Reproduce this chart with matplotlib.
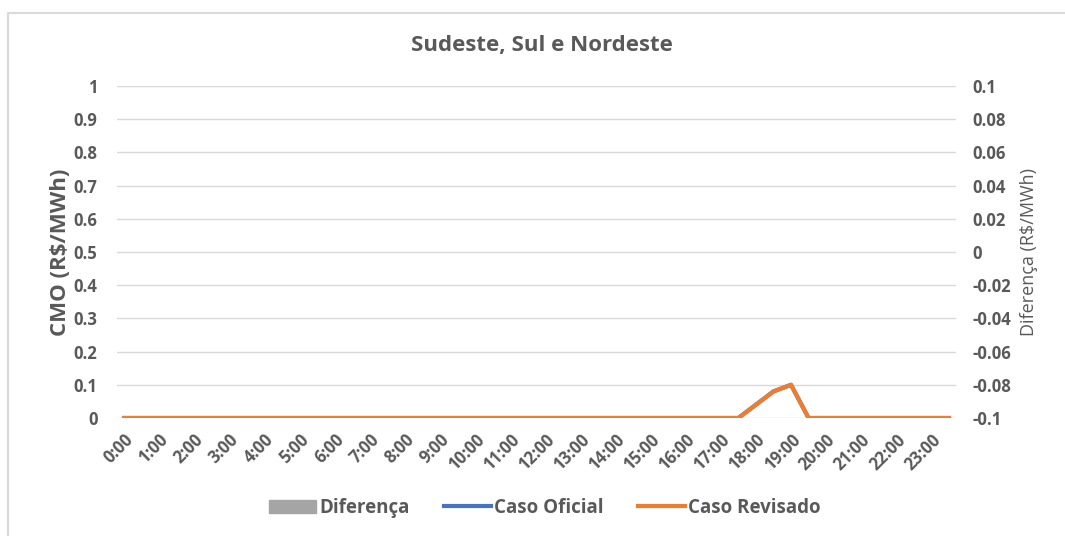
import matplotlib
matplotlib.use("Agg")
import matplotlib.pyplot as plt
from matplotlib.patches import Patch
from matplotlib.lines import Line2D

# Dados (48 pontos de meia hora)
horarios = ["%d:%02d" % (h, m) for h in range(24) for m in (0, 30)]
caso_oficial = [0.0] * 35 + [0.0, 0.04, 0.08, 0.1] + [0.0] * 9
caso_revisado = [0.0] * 35 + [0.0, 0.04, 0.08, 0.1] + [0.0] * 9
diferenca = [r - o for r, o in zip(caso_revisado, caso_oficial)]

cinza = "#595959"
plt.rcParams['font.family'] = ['Open Sans', 'DejaVu Sans']

fig = plt.figure(figsize=(10.65, 5.36), dpi=100)
# moldura do grafico (so aparecem borda esquerda e superior)
fig.add_artist(Line2D([7.5 / 1065, 7.5 / 1065, 1.0], [0.0, 1 - 12.5 / 536, 1 - 12.5 / 536],
                      transform=fig.transFigure, color="#d9d9d9", linewidth=1.5))

ax = fig.add_axes([117 / 1065, 1 - 418 / 536, (956 - 117) / 1065, (418 - 86) / 536])
ax2 = ax.twinx()

x = list(range(len(horarios)))
ax2.bar(x, diferenca, color="#A5A5A5", width=0.6, zorder=1)
ax.plot(x, caso_oficial, color="#4472C4", linewidth=3, zorder=3)
ax.plot(x, caso_revisado, color="#ED7D31", linewidth=3, zorder=4)
ax.set_zorder(ax2.get_zorder() + 1)
ax.patch.set_visible(False)

ax.set_ylim(0, 1)
ax.set_yticks([i / 10 for i in range(11)])
ax.set_yticklabels(["0", "0.1", "0.2", "0.3", "0.4", "0.5", "0.6", "0.7", "0.8", "0.9", "1"])
ax2.set_ylim(-0.1, 0.1)
ax2.set_yticks([-0.1 + i * 0.02 for i in range(11)])
ax2.set_yticklabels(["-0.1", "-0.08", "-0.06", "-0.04", "-0.02", "0", "0.02", "0.04", "0.06", "0.08", "0.1"])
ax.set_xlim(-0.4, len(horarios) - 0.6)
ax.set_xticks(x[::2])
ax.set_xticklabels(horarios[::2], rotation=45, ha="right", rotation_mode="anchor")

ax.grid(axis="y", color="#d9d9d9", linewidth=1)
ax.set_axisbelow(True)
for a in (ax, ax2):
    for s in a.spines.values():
        s.set_visible(False)
    a.tick_params(length=0, colors=cinza)
ax.tick_params(axis="y", labelsize=12, pad=14)
ax2.tick_params(axis="y", labelsize=12, pad=12)
ax.tick_params(axis="x", labelsize=12, pad=9)
for lbl in ax.get_yticklabels() + ax2.get_yticklabels() + ax.get_xticklabels():
    lbl.set_fontweight("bold")

ax.set_ylabel("CMO (R$/MWh)", fontsize=16, fontweight="bold", color=cinza, labelpad=2)
ax2.set_ylabel("Diferença (R$/MWh)", fontsize=13, color=cinza, labelpad=6)
fig.text(542 / 1065, 1 - 46 / 536, "Sudeste, Sul e Nordeste", ha="center", va="center",
         fontsize=16, fontweight="bold", color=cinza)

handles = [Patch(color="#A5A5A5"),
           Line2D([0], [0], color="#4472C4", linewidth=3),
           Line2D([0], [0], color="#ED7D31", linewidth=3)]
leg = fig.legend(handles, ["Diferença", "Caso Oficial", "Caso Revisado"], loc="center",
                 bbox_to_anchor=(545 / 1065, 1 - 508 / 536), ncol=3, frameon=False,
                 fontsize=13.5, handlelength=2.5, handletextpad=0.2, columnspacing=1.8)
for t in leg.get_texts():
    t.set_color(cinza)
    t.set_fontweight("bold")

fig.savefig("out.png", dpi=100)
